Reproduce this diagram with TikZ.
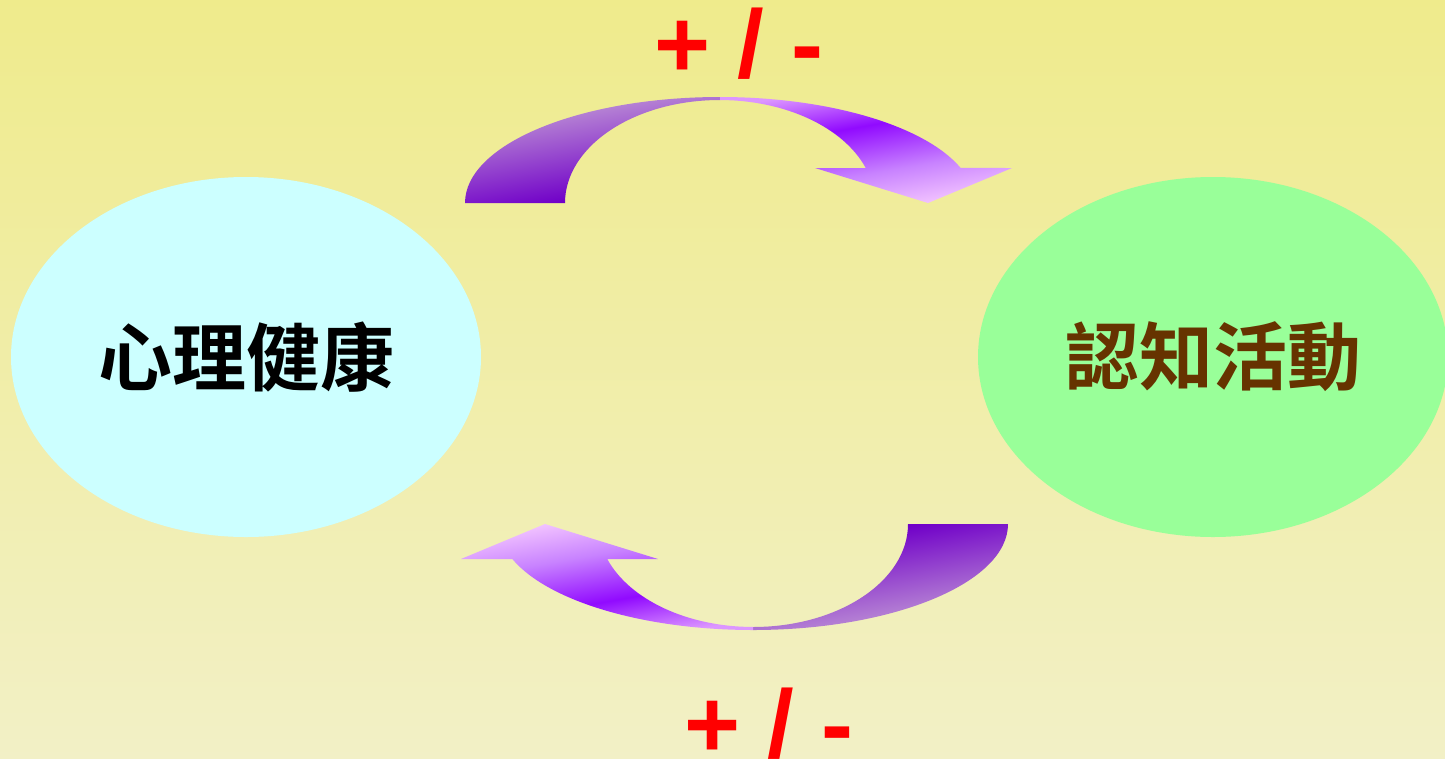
\documentclass[tikz,border=0pt]{standalone}
\usepackage{fontspec}
\newfontfamily\cjk{Noto Sans CJK TC}[BoldFont={Noto Sans CJK TC Bold}]
\newfontfamily\lat{Liberation Sans}
\usetikzlibrary{shapes.geometric}
\definecolor{bgtop}{RGB}{239,235,140}
\definecolor{bgbot}{RGB}{242,240,198}
\definecolor{mhfill}{RGB}{204,255,255}
\definecolor{cafill}{RGB}{153,255,153}
\definecolor{catext}{RGB}{102,51,0}
\definecolor{rLa}{RGB}{125,25,200}
\definecolor{rLb}{RGB}{112,0,200}
\definecolor{rLc}{RGB}{200,165,215}
\definecolor{rRa}{RGB}{245,200,255}
\definecolor{rRb}{RGB}{200,130,255}
\definecolor{rRc}{RGB}{145,10,255}
\definecolor{rRd}{RGB}{220,150,255}
\pgfdeclareverticalshading{ribL}{100bp}{color(0bp)=(rLa); color(25bp)=(rLa); color(32bp)=(rLb); color(75bp)=(rLc); color(100bp)=(rLc)}
\pgfdeclareverticalshading{ribR}{100bp}{color(0bp)=(rRa); color(25bp)=(rRa); color(41bp)=(rRb); color(59bp)=(rRc); color(75bp)=(rRd); color(100bp)=(rRd)}
\tikzset{
  blob/.style={ellipse, minimum width=470pt, minimum height=360pt, inner sep=0pt, draw=none},
  cjktext/.style={font=\cjk\bfseries\fontsize{74}{80}\selectfont},
  sign/.style={text=red, font=\lat\bfseries\fontsize{96}{100}\selectfont, anchor=base, inner sep=0pt},
  ribbonL/.style={shading=ribL, draw=none},
  ribbonR/.style={shading=ribR, draw=none}
}
\begin{document}
\begin{tikzpicture}[x=1pt,y=1pt]
\useasboundingbox (0,0) rectangle (1445,-758);
\clip (0,0) rectangle (1445,-758);
\shade[top color=bgtop, bottom color=bgbot] (0,0) rectangle (1445,-758);
% ellipses
\node[blob, fill=mhfill, cjktext, text=black] (mh) at (246,-357) {心理健康};
\node[blob, fill=cafill, cjktext, text=catext] (ca) at (1213,-357) {認知活動};
% top ribbon arrow
\shade[ribbonL, shading angle=10] (465,-203) arc[start angle=180, end angle=90, x radius=255pt, y radius=106pt] -- (720,-100) arc[start angle=90, end angle=180, x radius=155pt, y radius=103pt] -- cycle;
\shade[ribbonR, shading angle=10] (720,-97) arc[start angle=90, end angle=19.3, x radius=255pt, y radius=106pt] -- (1012,-168) -- (928,-203) -- (815,-168) -- (865.75,-168) arc[start angle=19.9, end angle=90, x radius=155pt, y radius=103pt] -- cycle;
% bottom ribbon arrow
\shade[ribbonL, shading angle=190] (1008,-524) arc[start angle=0, end angle=-90, x radius=255pt, y radius=106pt] -- (753,-627) arc[start angle=-90, end angle=0, x radius=155pt, y radius=103pt] -- cycle;
\shade[ribbonR, shading angle=190] (753,-630) arc[start angle=-90, end angle=-160.7, x radius=255pt, y radius=106pt] -- (461,-559) -- (545,-524) -- (658,-559) -- (607.25,-559) arc[start angle=-160.1, end angle=-90, x radius=155pt, y radius=103pt] -- cycle;
% signs
\node[sign] (st) at (739,-77) {+ / -};
\node[sign] (sb) at (769,-757) {+ / -};
\end{tikzpicture}
\end{document}
